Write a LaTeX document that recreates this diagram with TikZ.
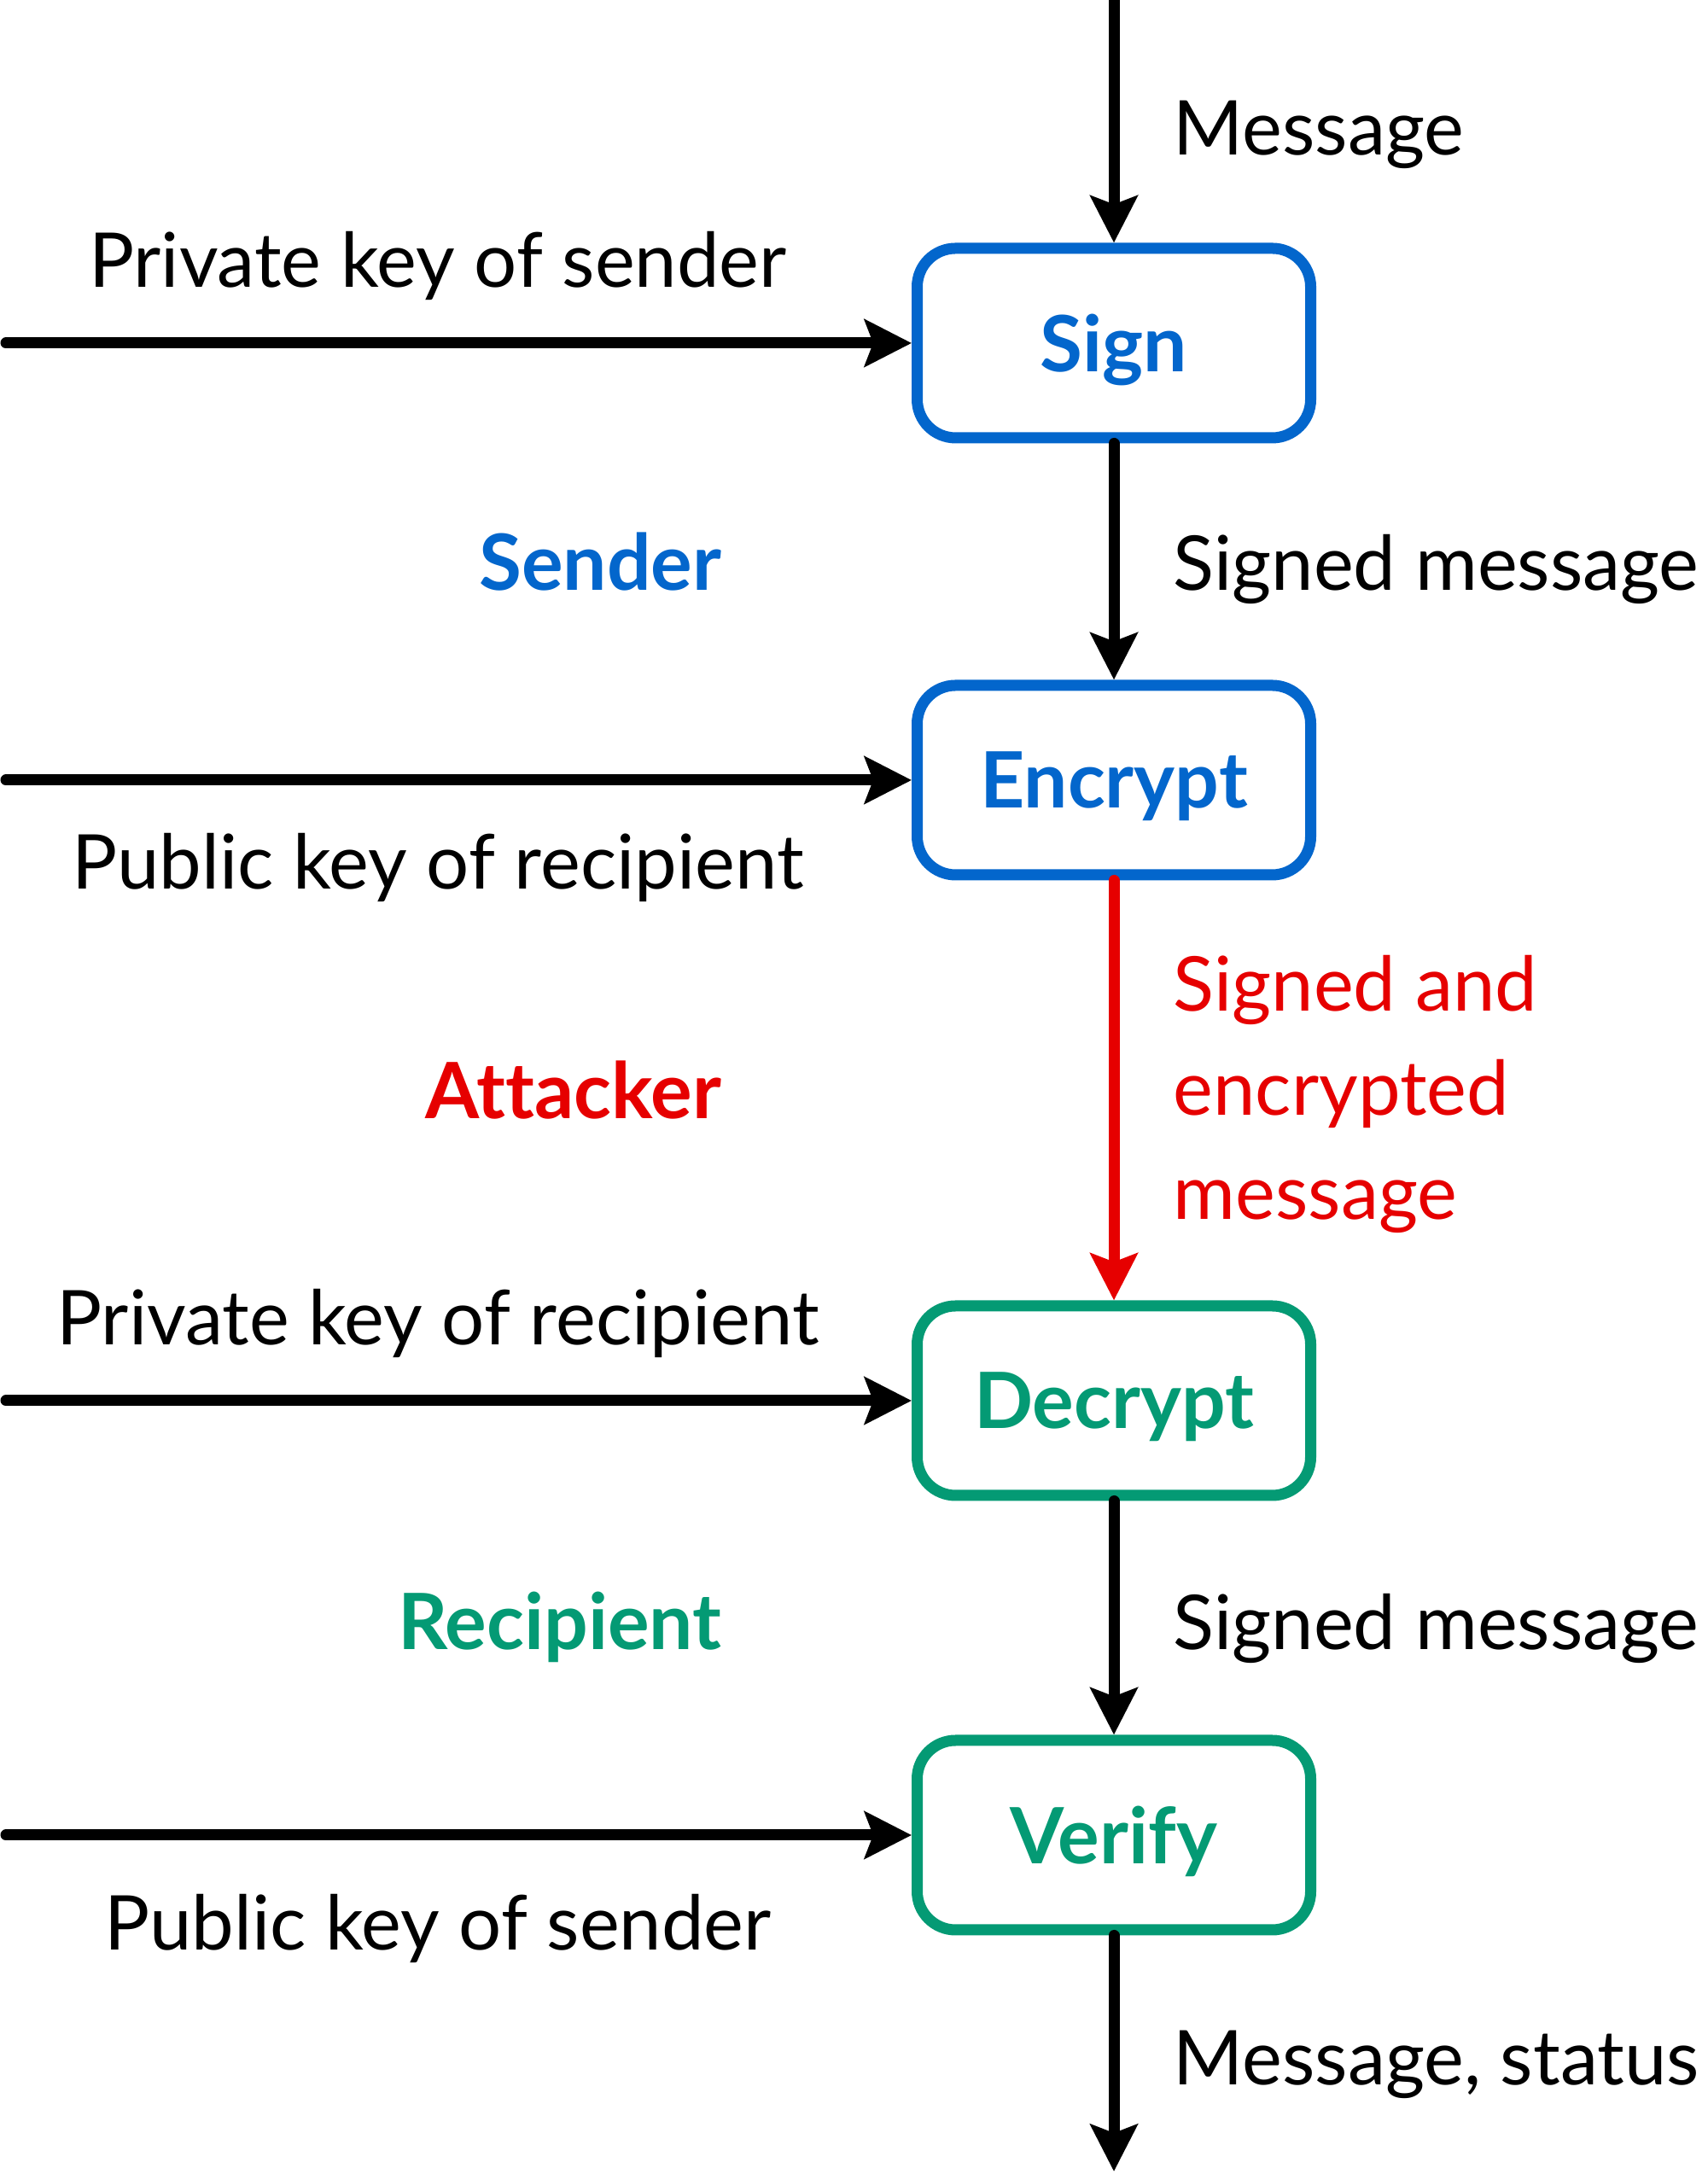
\documentclass[tikz,border=0pt]{standalone}
\usepackage{fontspec}
\setmainfont{Lato}[Ligatures=NoCommon]
\usetikzlibrary{calc,arrows.meta}

\definecolor{sendblue}{RGB}{3,102,204}
\definecolor{recvgreen}{RGB}{4,154,116}
\definecolor{attred}{RGB}{230,0,0}

\tikzset{
  stage/.style={draw, rounded corners=0.45cm, line width=0.13cm, minimum width=4.61cm, minimum height=2.22cm, text depth=0pt, font=\fontsize{25.9}{30}\selectfont\bfseries},
  flow/.style={line width=0.13cm, line cap=round, -{Stealth[length=0.55cm, width=0.55cm, inset=0.1cm]}},
  lbl/.style={inner sep=0pt, font=\fontsize{25.2}{34.8}\selectfont},
  party/.style={inner sep=0pt, font=\fontsize{25.9}{30}\selectfont\bfseries},
}

\begin{document}
\begin{tikzpicture}

\useasboundingbox (0,0) rectangle (20,25.47);

\node[stage, draw=sendblue, text=sendblue] (sign) at (13.05,21.45) {Sign};

\node[stage, draw=sendblue, text=sendblue] (encrypt) at ($(sign) + (0,-5.12)$) {Encrypt};

\node[stage, draw=recvgreen, text=recvgreen] (decrypt) at ($(encrypt) + (0,-7.27)$) {Decrypt};

\node[stage, draw=recvgreen, text=recvgreen] (verify) at ($(decrypt) + (0,-5.09)$) {Verify};

\coordinate (msgin) at ($(sign) + (0,4.02)$);
\coordinate (msgout) at ($(verify) + (0,-3.94)$);
\coordinate (keysign) at ($(sign) + (-12.98,0)$);
\coordinate (keyenc) at ($(encrypt) + (-12.98,0)$);
\coordinate (keydec) at ($(decrypt) + (-12.98,0)$);
\coordinate (keyver) at ($(verify) + (-12.98,0)$);

\draw[flow] (msgin) -- (sign);
\draw[flow] (sign) -- (encrypt);
\draw[flow, attred] (encrypt) -- (decrypt);
\draw[flow] (decrypt) -- (verify);
\draw[flow] (verify) -- (msgout);

\draw[flow] (keysign) -- (sign);
\draw[flow] (keyenc) -- (encrypt);
\draw[flow] (keydec) -- (decrypt);
\draw[flow] (keyver) -- (verify);

% labels on the right of the flow
\node[lbl, anchor=base west] (lmsg) at ($(sign) + (0.69,2.20)$) {Message};
\node[lbl, anchor=base west] (lsigned) at ($(sign) + (0.69,-2.90)$) {Signed message};
\node[lbl, anchor=west, align=left, text=attred] (lcipher) at ($(encrypt) + (0.69,-3.68)$) {Signed and\\encrypted\\message};
\node[lbl, anchor=base west] (lsigned2) at ($(decrypt) + (0.69,-2.92)$) {Signed message};
\node[lbl, anchor=base west] (lresult) at ($(verify) + (0.69,-2.93)$) {Message, status};

% keys
\node[lbl, anchor=base] (lprivs) at ($(sign) + (-7.92,0.65)$) {Private key of sender};
\node[lbl, anchor=base] (lpubr) at ($(encrypt) + (-7.92,-1.28)$) {Public key of recipient};
\node[lbl, anchor=base] (lprivr) at ($(decrypt) + (-7.92,0.65)$) {Private key of recipient};
\node[lbl, anchor=base] (lpubs) at ($(verify) + (-7.92,-1.35)$) {Public key of sender};

% parties
\node[party, anchor=base east, text=sendblue] (sender) at ($(sign) + (-4.59,-2.90)$) {Sender};
\node[party, anchor=base east, text=attred] (attacker) at ($(encrypt) + (-4.59,-3.97)$) {Attacker};
\node[party, anchor=base east, text=recvgreen] (recipient) at ($(decrypt) + (-4.59,-2.92)$) {Recipient};

\end{tikzpicture}
\end{document}
